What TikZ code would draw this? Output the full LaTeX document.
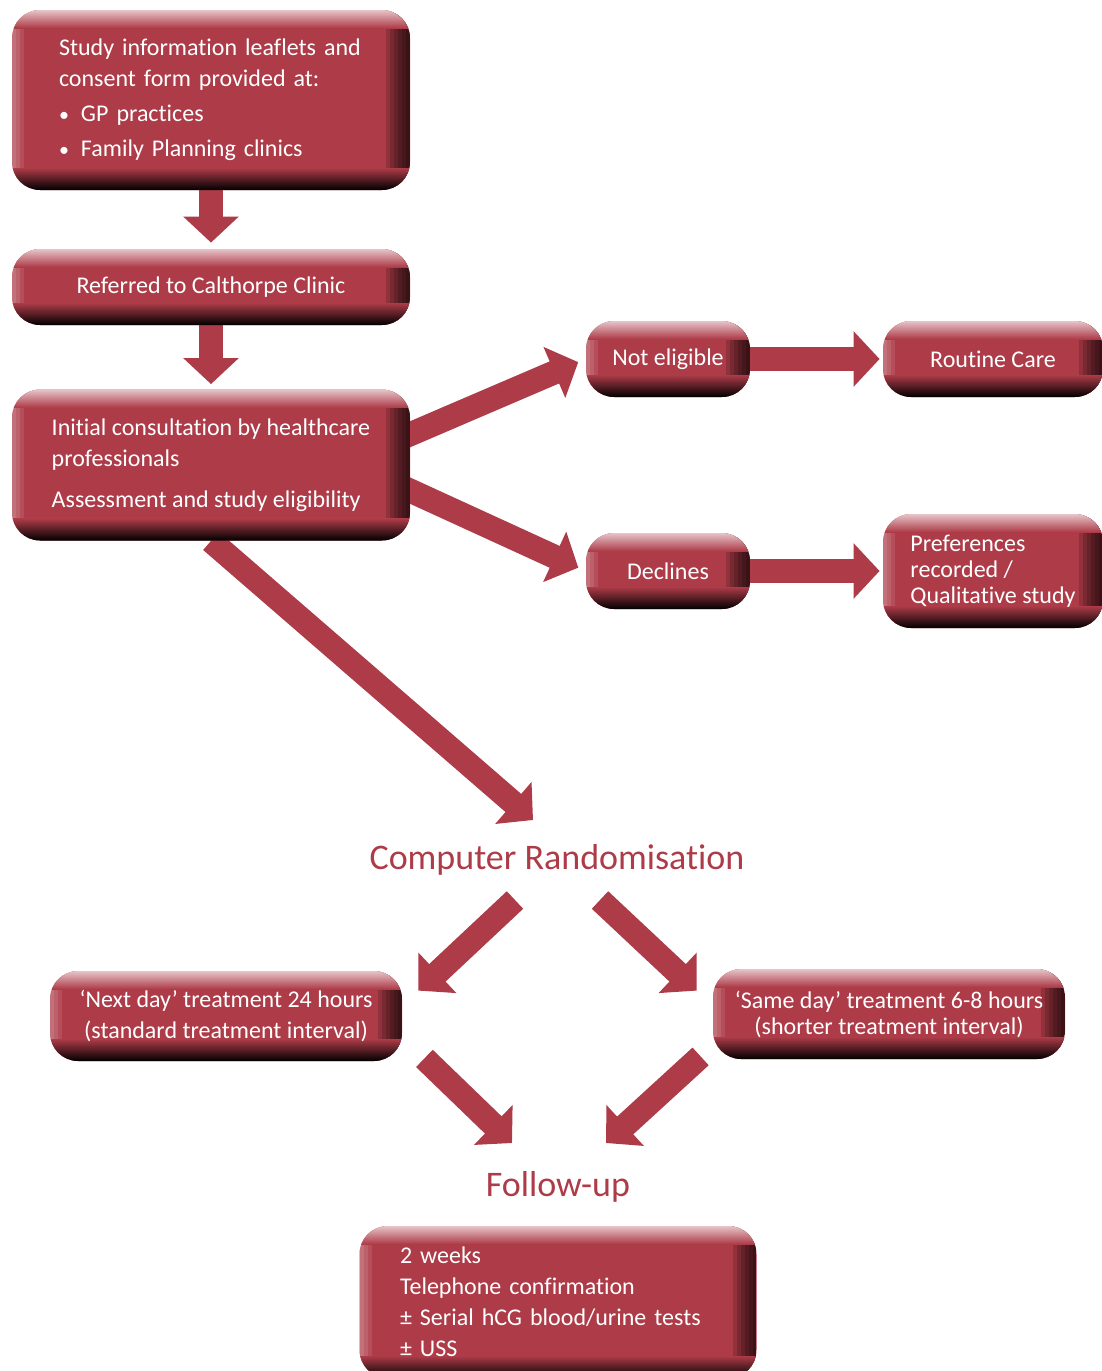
\documentclass[tikz,border=0pt]{standalone}
\usepackage{fontspec}
\setmainfont{Carlito}[Ligatures=NoCommon]
\usetikzlibrary{arrows.meta,calc,backgrounds}
\definecolor{gelred}{RGB}{173,59,72}

\begin{document}
\begin{tikzpicture}[x=0.5pt,y=-0.5pt,
    every node/.style={font=\fontsize{12}{15.5}\selectfont},
    gel/.style={rounded corners=14pt,fill=gelred,text=white,
      path picture={
        \foreach \w in {2,4,...,12}
          \fill[sharp corners,black,opacity=0.16]
            ([xshift=-\w pt]path picture bounding box.south east) rectangle (path picture bounding box.north east);
        \foreach \w in {2,4,6}
          \fill[sharp corners,white,opacity=0.1]
            (path picture bounding box.south west) rectangle ([xshift=\w pt]path picture bounding box.north west);
        \shade[sharp corners,top color=gelred!30!white,bottom color=gelred]
          (path picture bounding box.north west) rectangle ([yshift=-9pt]path picture bounding box.north east);
        \shade[sharp corners,top color=gelred,bottom color=black]
          ([yshift=11pt]path picture bounding box.south west) rectangle (path picture bounding box.south east);
      }},
    flow/.style={draw=gelred,line width=12pt,-{Triangle[length=13pt,width=27pt]}},
    heading/.style={text=gelred,font=\fontsize{18}{22}\selectfont}
  ]
  \useasboundingbox (0,0) rectangle (1102,1371);

  % recruitment
  \node[gel,minimum width=199pt,minimum height=90pt,text width=152pt,align=left] (leaflets) at (211,100)
    {Study information leaflets and\\consent form provided at:\\[2pt]
     {\fontsize{10}{10}\selectfont\textbullet}\enspace GP practices\\[2pt]
     {\fontsize{10}{10}\selectfont\textbullet}\enspace Family Planning clinics};
  \node[gel,minimum width=199pt,minimum height=38pt] (referred) at (211,287) {Referred to Calthorpe Clinic};
  \node[gel,minimum width=199pt,minimum height=75.5pt,align=left] (initial) at (211,465)
    {Initial consultation by healthcare\\professionals\\[5pt]Assessment and study eligibility};

  % not in trial
  \node[gel,minimum width=82pt,minimum height=38pt] (noteligible) at (668,359) {Not eligible};
  \node[gel,minimum width=110pt,minimum height=38pt] (routine) at (993,359) {Routine Care};
  \node[gel,minimum width=82pt,minimum height=38pt] (declines) at (668,571) {Declines};
  \node[gel,minimum width=110pt,minimum height=57pt,align=left,
        font=\fontsize{12}{13}\selectfont] (preferences) at (993,571)
    {Preferences\\recorded /\\Qualitative study};

  % trial arms
  \node[heading] (random) at (557,860) {Computer Randomisation};
  \node[gel,minimum width=176pt,minimum height=45pt,align=center] (nextday) at (226,1016)
    {‘Next day’ treatment 24 hours\\(standard treatment interval)};
  \node[gel,minimum width=176pt,minimum height=45pt,align=center,
        font=\fontsize{12}{13}\selectfont] (sameday) at (889,1014)
    {‘Same day’ treatment 6-8 hours\\(shorter treatment interval)};
  \node[heading] (followup) at (558,1187) {Follow-up};
  \node[gel,minimum width=198.5pt,minimum height=76pt,text width=158pt,align=left] (weeks) at (558,1302)
    {2 weeks\\Telephone confirmation\\± Serial hCG blood/urine tests\\± USS};

  \begin{scope}[on background layer]
    \draw[flow,shorten >=3pt] (leaflets.south) -- (referred.north);
    \draw[flow,shorten >=2.5pt] (referred.south) -- (initial.north);
    \draw[flow,shorten >=4pt] ($(initial.east)+(-30,-18)$) -- (noteligible.west);
    \draw[flow,shorten >=4pt] ($(initial.east)+(-30,12)$) -- (declines.west);
    \draw[flow,shorten >=1.5pt] (noteligible.east) -- (routine.west);
    \draw[flow,shorten >=1.5pt] (declines.east) -- (preferences.west);
    \draw[flow] (initial.south) -- ($(random)+(-24,-40)$);
    \draw[flow] ($(random)+(-42,40)$) -- ($(nextday.north east)+(16,20)$);
    \draw[flow] ($(random)+(43,40)$) -- ($(sameday.north west)+(-16,22)$);
    \draw[flow] ($(nextday.south east)+(22,-3)$) -- ($(followup)+(-46,-44)$);
    \draw[flow] ($(sameday.south west)+(-12,-3)$) -- ($(followup)+(48,-44)$);
  \end{scope}
\end{tikzpicture}
\end{document}
